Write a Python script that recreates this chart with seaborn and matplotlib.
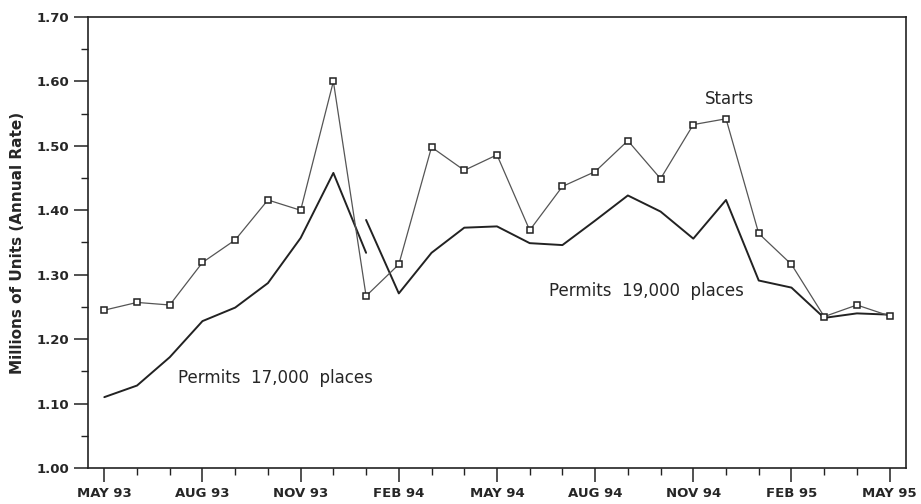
import numpy as np
import pandas as pd
import seaborn as sns
import matplotlib.pyplot as plt
from matplotlib.ticker import MultipleLocator, FormatStrFormatter

# monthly, May 93 .. May 95
months = ['MAY 93', 'JUN 93', 'JUL 93', 'AUG 93', 'SEP 93', 'OCT 93', 'NOV 93',
          'DEC 93', 'JAN 94', 'FEB 94', 'MAR 94', 'APR 94', 'MAY 94', 'JUN 94',
          'JUL 94', 'AUG 94', 'SEP 94', 'OCT 94', 'NOV 94', 'DEC 94', 'JAN 95',
          'FEB 95', 'MAR 95', 'APR 95', 'MAY 95']

starts = [1.245, 1.257, 1.253, 1.319, 1.354, 1.416, 1.400, 1.600, 1.267,
          1.316, 1.498, 1.462, 1.486, 1.369, 1.437, 1.460, 1.508, 1.449,
          1.533, 1.542, 1.364, 1.316, 1.235, 1.253, 1.236]

# permits on the old 17,000-place universe (May 93 - Jan 94)
permits_17k = [1.110, 1.128, 1.172, 1.228, 1.249, 1.287, 1.357, 1.458, 1.334]
# permits on the new 19,000-place universe (Jan 94 - May 95)
permits_19k = [1.385, 1.271, 1.334, 1.373, 1.375, 1.349, 1.346, 1.384, 1.423,
               1.398, 1.356, 1.416, 1.291, 1.280, 1.233, 1.240, 1.238]

idx = np.arange(len(months))
df_starts = pd.DataFrame({'m': idx, 'v': starts})
df_p17 = pd.DataFrame({'m': idx[:len(permits_17k)], 'v': permits_17k})
df_p19 = pd.DataFrame({'m': idx[len(months) - len(permits_19k):], 'v': permits_19k})

sns.set_style("ticks")
plt.rcParams['font.family'] = ['DejaVu Sans']

fig = plt.figure(figsize=(9.21, 5.04), dpi=100)
ax = fig.add_axes([0.0955, 0.0714, 0.8882, 0.8949])

sns.lineplot(data=df_p17, x='m', y='v', ax=ax, color='#222222', linewidth=1.4)
sns.lineplot(data=df_p19, x='m', y='v', ax=ax, color='#222222', linewidth=1.4)
sns.lineplot(data=df_starts, x='m', y='v', ax=ax, color='#555555', linewidth=0.9,
             marker='s', markersize=4.5, markerfacecolor='white',
             markeredgecolor='#222222', markeredgewidth=1.1)

ax.set_xlim(-0.5, 24.5)
ax.set_ylim(1.00, 1.70)
ax.set_xticks(idx[::3])
ax.set_xticklabels(months[::3], fontsize=9.5, fontweight='bold')
ax.xaxis.set_minor_locator(MultipleLocator(1))
ax.yaxis.set_major_locator(MultipleLocator(0.1))
ax.yaxis.set_minor_locator(MultipleLocator(0.05))
ax.yaxis.set_major_formatter(FormatStrFormatter('%.2f'))
for lab in ax.get_yticklabels():
    lab.set_fontsize(9.5)
    lab.set_fontweight('bold')
ax.tick_params(which='major', length=10, width=1.1, color='#222222', direction='out')
ax.tick_params(which='minor', length=5, width=1.0, color='#222222', direction='out')
ax.tick_params(axis='x', which='major', pad=4)
for s in ax.spines.values():
    s.set_linewidth(1.2)
    s.set_color('#222222')

ax.set_xlabel('')
ax.set_ylabel('Millions of Units (Annual Rate)', fontsize=11, fontweight='bold', labelpad=8)

ax.text(19.1, 1.572, 'Starts', fontsize=12, ha='center', va='center')
ax.text(2.25, 1.139, 'Permits  17,000  places', fontsize=12, ha='left', va='center')
ax.text(13.6, 1.275, 'Permits  19,000  places', fontsize=12, ha='left', va='center')

fig.savefig('out.png', dpi=100)
